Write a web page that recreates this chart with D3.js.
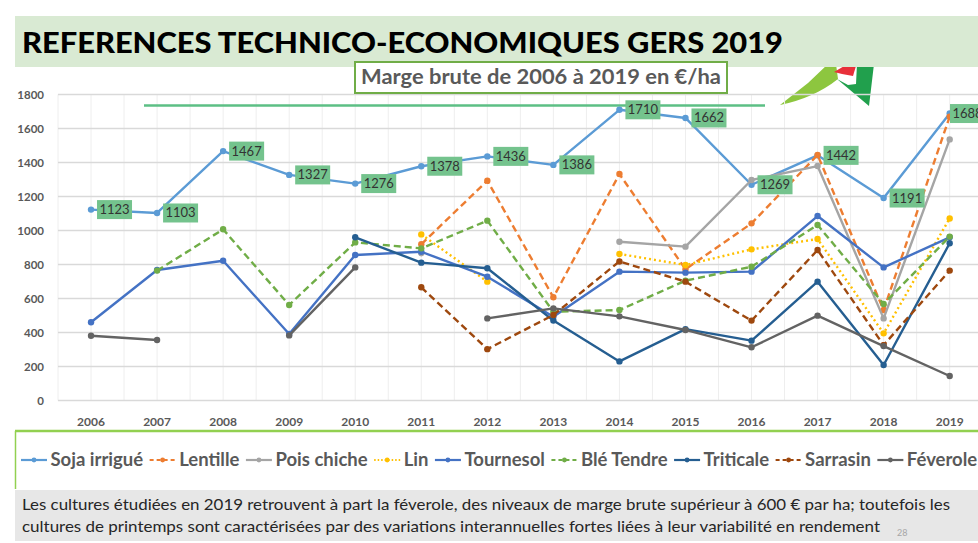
<!DOCTYPE html>
<html>
<head>
<meta charset="utf-8">
<script src="https://cdn.jsdelivr.net/npm/d3@7"></script>
<style>
  body { margin: 0; background: #fff; }
  svg { display: block; font-family: Lato, 'Open Sans', sans-serif; }
</style>
</head>
<body>
<svg id="chart" width="978" height="543"></svg>
<script>
'use strict';

// data (marge brute, €/ha)
const years = [2006, 2007, 2008, 2009, 2010, 2011, 2012, 2013, 2014, 2015, 2016, 2017, 2018, 2019];
const soja = [1123, 1103, 1467, 1327, 1276, 1378, 1436, 1386, 1710, 1662, 1269, 1442, 1191, 1688];
const lentille = [null, null, null, null, null, 919, 1293, 607, 1332, 772, 1042, 1444, 532, 1670];
const poisChiche = [null, null, null, null, null, 866, null, null, 934, 905, 1297, 1379, 483, 1536];
const lin = [null, null, null, null, null, 977, 699, null, 862, 797, 889, 950, 395, 1071];
const tournesol = [460, 768, 822, 391, 856, 875, 728, 493, 758, 752, 758, 1085, 783, 960];
const bleTendre = [null, 764, 1007, 562, 930, 895, 1058, 522, 532, 705, 787, 1032, 568, 964];
const triticale = [null, null, null, null, 960, 811, 778, 470, 230, 420, 352, 699, 209, 925];
const sarrasin = [null, null, null, null, null, 666, 302, 503, 818, 699, 470, 885, 326, 764];
const feverole = [381, 356, null, 383, 783, null, 483, 542, 495, 415, 313, 499, 320, 144];
const yTicks = [0, 200, 400, 600, 800, 1000, 1200, 1400, 1600, 1800];

const seriesNames = ['Soja irrigué', 'Lentille', 'Pois chiche', 'Lin', 'Tournesol', 'Blé Tendre', 'Triticale', 'Sarrasin', 'Féverole'];
const seriesValues = [soja, lentille, poisChiche, lin, tournesol, bleTendre, triticale, sarrasin, feverole];
const seriesColors = ['#5b9bd5', '#ed7d31', '#a5a5a5', '#ffc000', '#4472c4', '#70ad47', '#255e91', '#9e480e', '#636363'];
const seriesDash = [null, '7,4', null, '2,3', null, '7,4', null, '7,4', null];

const svg = d3.select('#chart');

// logo top right (drawn first so the header band covers its top)
svg.append('path').attr('d', 'M780,105 L808,83 L828,64 L836,64 L838,79 Q814,98 780,105 Z').attr('fill', '#8dc63f');
svg.append('path').attr('d', 'M837,79 L848,85 L856,84 L857,64 L874,64 L869,106 Z').attr('fill', '#21a04d');
svg.append('path').attr('d', 'M834,72 L846,65 L856,66 L853,76 L842,74 Z').attr('fill', '#e8303a');

// header band + title
svg.append('rect').attr('x', 15).attr('y', 16).attr('width', 963).attr('height', 51).attr('fill', '#d9ead3');
svg.append('text')
  .attr('x', 22).attr('y', 53)
  .attr('textLength', 761).attr('lengthAdjust', 'spacingAndGlyphs')
  .style('font-size', '29px').style('font-weight', 900).style('fill', '#000')
  .text('REFERENCES TECHNICO-ECONOMIQUES GERS 2019');

// scales
const x = d3.scaleBand().domain(years).range([58, 58 + 66.05 * years.length]);
const y = d3.scaleLinear().domain([0, 1800]).range([400.5, 94.5]);
const cx = d => x(d) + x.bandwidth() / 2;

// grid
const grid = svg.append('g');
const vLines = [];
years.forEach(yr => { vLines.push(x(yr)); vLines.push(cx(yr)); });
grid.selectAll('line.v').data(vLines).join('line')
  .attr('x1', d => d).attr('x2', d => d).attr('y1', y(1800)).attr('y2', y(0))
  .attr('stroke', '#eeeeee').attr('stroke-width', 1);
grid.selectAll('line.h').data(yTicks).join('line')
  .attr('x1', 58).attr('x2', 978).attr('y1', d => y(d)).attr('y2', d => y(d))
  .attr('stroke', '#d9d9d9').attr('stroke-width', 1.3);

// axes
const yAxis = svg.append('g').attr('transform', 'translate(46,0)')
  .call(d3.axisLeft(y).tickValues(yTicks).tickFormat(d3.format('d')).tickSize(0).tickPadding(2));
yAxis.select('.domain').remove();
yAxis.selectAll('text').style('font-size', '11.5px').style('font-weight', 700).style('fill', '#595959').style('font-family', 'Lato, sans-serif');

const xAxis = svg.append('g').attr('transform', `translate(0,${y(0) + 13})`)
  .call(d3.axisBottom(x).tickSize(0).tickPadding(4));
xAxis.select('.domain').remove();
xAxis.selectAll('text').style('font-size', '12px').style('font-weight', 700).style('fill', '#595959').style('font-family', 'Lato, sans-serif');

// green rule under the subtitle (behind the labels)
svg.append('line').attr('x1', 144).attr('x2', 765).attr('y1', 105.5).attr('y2', 105.5)
  .attr('stroke', '#5cbf85').attr('stroke-width', 2.5);

// lines and markers
const line = d3.line()
  .defined(d => d.v !== null)
  .x(d => cx(d.yr))
  .y(d => y(d.v));

const plot = svg.append('g');
seriesValues.forEach((vals, i) => {
  const pts = years.map((yr, j) => ({ yr: yr, v: vals[j] }));
  plot.append('path')
    .datum(pts)
    .attr('d', line)
    .attr('fill', 'none')
    .attr('stroke', seriesColors[i])
    .attr('stroke-width', 2.4)
    .attr('stroke-dasharray', seriesDash[i])
    .attr('stroke-linejoin', 'round');
  plot.selectAll(null)
    .data(pts.filter(d => d.v !== null))
    .join('circle')
    .attr('cx', d => cx(d.yr)).attr('cy', d => y(d.v)).attr('r', 3.2)
    .attr('fill', seriesColors[i]);
});

// soja data labels, pushed back in near the right edge
const labels = svg.append('g');
years.forEach((yr, j) => {
  const lx = Math.min(cx(yr) + 6, 950);
  const ly = y(soja[j]);
  labels.append('rect')
    .attr('x', lx).attr('y', ly - 9.5).attr('width', 35).attr('height', 19)
    .attr('fill', '#74c38d');
  labels.append('text')
    .attr('x', lx + 17.5).attr('y', ly + 4.5)
    .attr('text-anchor', 'middle')
    .style('font-size', '13px').style('fill', '#333')
    .text(soja[j]);
});

// subtitle box
svg.append('rect').attr('x', 355).attr('y', 62).attr('width', 372).attr('height', 31)
  .attr('fill', '#fff').attr('stroke', '#70ad47').attr('stroke-width', 2);
svg.append('text')
  .attr('x', 541).attr('y', 84).attr('text-anchor', 'middle')
  .attr('textLength', 360).attr('lengthAdjust', 'spacingAndGlyphs')
  .style('font-size', '21px').style('font-weight', 700).style('fill', '#595959')
  .text('Marge brute de 2006 à 2019 en €/ha');

// legend
svg.append('line').attr('x1', 15).attr('x2', 978).attr('y1', 431).attr('y2', 431).attr('stroke', '#92d050').attr('stroke-width', 2.5);
svg.append('line').attr('x1', 15.5).attr('x2', 15.5).attr('y1', 431).attr('y2', 489).attr('stroke', '#92d050').attr('stroke-width', 1.5);

const legend = svg.append('g');
let lxPos = 21;
seriesNames.forEach((name, i) => {
  const g = legend.append('g').attr('transform', `translate(${lxPos},460)`);
  g.append('line').attr('x1', 0).attr('x2', 26).attr('y1', 0).attr('y2', 0)
    .attr('stroke', seriesColors[i]).attr('stroke-width', 2.2).attr('stroke-dasharray', seriesDash[i] === '2,3' ? '1.5,2' : (seriesDash[i] ? '4,3' : null));
  g.append('circle').attr('cx', 13).attr('cy', 0).attr('r', 2.4).attr('fill', seriesColors[i]);
  const t = g.append('text').attr('x', 29.5).attr('y', 6)
    .style('font-size', '18.5px').style('font-weight', 700).style('fill', '#595959')
    .text(name);
  lxPos += 29.5 + t.node().getComputedTextLength() + 6.5;
});

// comment box
svg.append('rect').attr('x', 15).attr('y', 490).attr('width', 963).attr('height', 51).attr('fill', '#e7e7e7');
svg.append('text').attr('x', 22).attr('y', 510)
  .attr('textLength', 928).attr('lengthAdjust', 'spacingAndGlyphs')
  .style('font-size', '15px').style('fill', '#262626')
  .text('Les cultures étudiées en 2019 retrouvent à part la féverole, des niveaux de marge brute supérieur à 600 € par ha; toutefois les');
svg.append('text').attr('x', 22).attr('y', 532)
  .attr('textLength', 858).attr('lengthAdjust', 'spacingAndGlyphs')
  .style('font-size', '15px').style('fill', '#262626')
  .text('cultures de printemps sont caractérisées par des variations interannuelles fortes liées à leur variabilité en rendement');
svg.append('text').attr('x', 897).attr('y', 536)
  .style('font-size', '9px').style('fill', '#a6a6a6')
  .text('28');
</script>
</body>
</html>
